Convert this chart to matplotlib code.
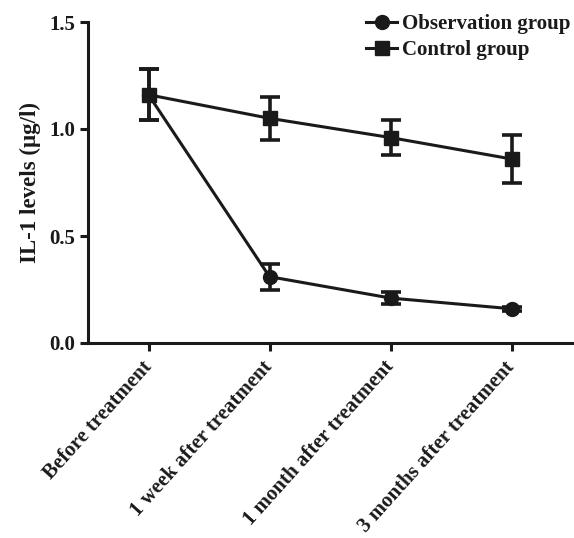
import matplotlib
matplotlib.use("Agg")
import matplotlib.pyplot as plt
from matplotlib.lines import Line2D
import numpy as np

categories = ["Before treatment", "1 week after treatment",
              "1 month after treatment", "3 months after treatment"]
obs_mean = [1.16, 0.31, 0.21, 0.16]
obs_err = [0.12, 0.06, 0.03, 0.01]
ctrl_mean = [1.16, 1.05, 0.96, 0.86]
ctrl_err = [0.12, 0.10, 0.08, 0.11]
yticks = [0.0, 0.5, 1.0, 1.5]

plt.rcParams['font.family'] = ['Liberation Serif', 'DejaVu Serif']
plt.rcParams['font.weight'] = 'bold'

col = '#1a1a1a'
fig = plt.figure(figsize=(5.74, 5.38), dpi=100)
ax = fig.add_axes([88/574, 1-343/538, (572-88)/574, (343-22)/538])

x = np.arange(len(categories))
ax.errorbar(x, obs_mean, yerr=obs_err, color=col, marker='o', markersize=10,
            linewidth=2.2, elinewidth=2.6, capsize=7, capthick=2.6)
ax.errorbar(x, ctrl_mean, yerr=ctrl_err, color=col, marker='s', markersize=10,
            linewidth=2.2, elinewidth=2.6, capsize=7, capthick=2.6)

ax.set_xlim(-0.5, 3.5)
ax.set_ylim(0, 1.5)
ax.set_yticks(yticks)
ax.set_yticklabels([f"{v:.1f}" for v in yticks])
ax.set_xticks(x)
ax.set_xticklabels(categories, rotation=48, ha='right', va='center', rotation_mode='anchor',
                   fontsize=15)

for s in ['top', 'right']:
    ax.spines[s].set_visible(False)
for s in ['left', 'bottom']:
    ax.spines[s].set_linewidth(2.2)
    ax.spines[s].set_color(col)
ax.tick_params(axis='both', direction='out', length=6, width=2.2, color=col,
               labelcolor=col)
ax.tick_params(axis='y', labelsize=15, pad=3)
ax.tick_params(axis='x', pad=9)
ax.set_ylabel('IL-1 levels (μg/l)', fontsize=16.5, fontweight='bold', color=col, labelpad=6)

handles = [Line2D([], [], color=col, marker='o', markersize=10, linewidth=2.2),
           Line2D([], [], color=col, marker='s', markersize=10, linewidth=2.2)]
leg = ax.legend(handles, ['Observation group', 'Control group'],
                loc='upper left', bbox_to_anchor=(366/574, 1-14/538), bbox_transform=fig.transFigure,
                frameon=False, fontsize=15, handlelength=1.5, handletextpad=0.25,
                borderpad=0, borderaxespad=0, labelspacing=0.3)
for t in leg.get_texts():
    t.set_color(col)

fig.savefig('out.png', dpi=100)
